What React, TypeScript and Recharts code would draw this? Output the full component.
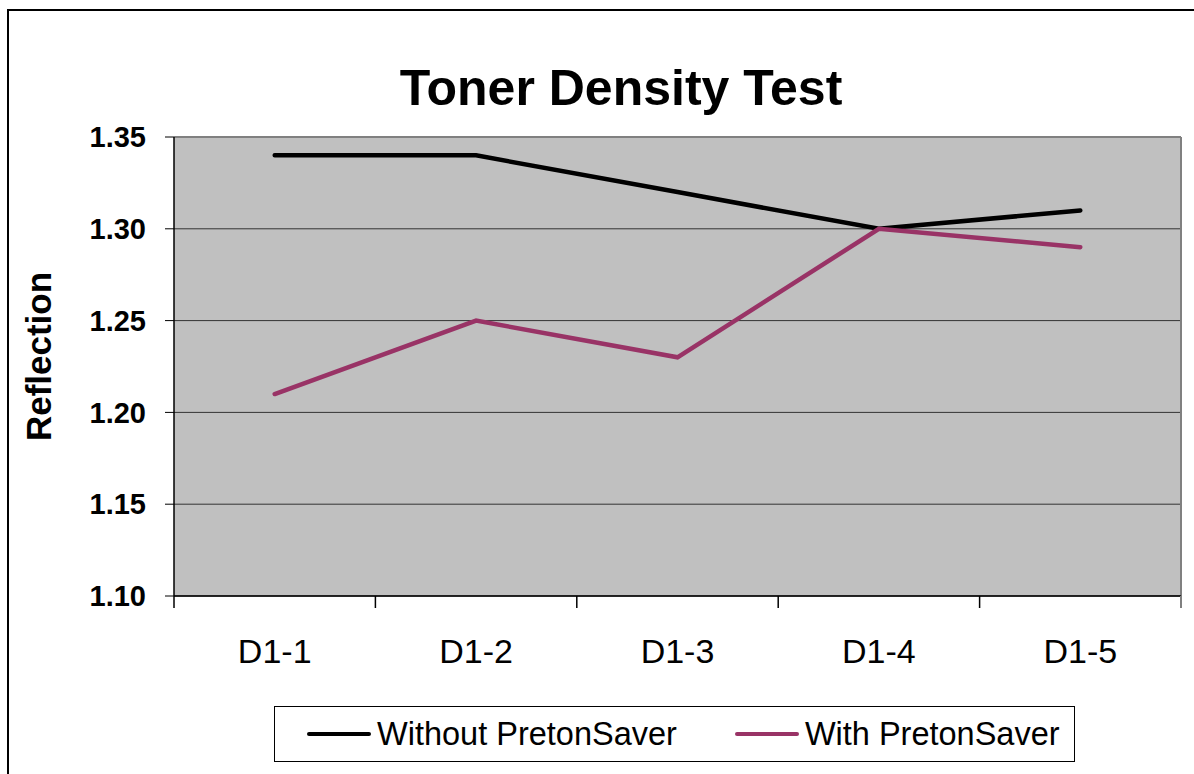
import React from "react";
import {
  LineChart,
  Line,
  XAxis,
  YAxis,
  CartesianGrid,
  Legend,
  Label,
} from "recharts";

const categories = ["D1-1", "D1-2", "D1-3", "D1-4", "D1-5"];
const withoutSaver = [1.34, 1.34, 1.32, 1.3, 1.31];
const withSaver = [1.21, 1.25, 1.23, 1.3, 1.29];
const yTicks = [1.1, 1.15, 1.2, 1.25, 1.3, 1.35];
const seriesNames = ["Without PretonSaver", "With PretonSaver"];

const data = categories.map((name, i) => ({
  name,
  without: withoutSaver[i],
  with: withSaver[i],
}));

const W = 1194;
const H = 774;
const PLOT_LEFT = 174;
const PLOT_RIGHT = 1181;
const PLOT_TOP = 137;
const BAND = (PLOT_RIGHT - PLOT_LEFT) / categories.length;
const FONT = '"Liberation Sans", Arial, sans-serif';

// label in the middle of the category, tick marks on the boundaries
const CategoryTick = (props: any) => {
  const { x, y, payload, index } = props;
  const last = index === categories.length - 1;
  return (
    <g>
      <line x1={x - BAND / 2} x2={x - BAND / 2} y1={y} y2={y + 12} stroke="#000" strokeWidth={1.5} />
      {last && (
        <line x1={x + BAND / 2} x2={x + BAND / 2} y1={y} y2={y + 12} stroke="#808080" strokeWidth={2} />
      )}
      <text x={x} y={y + 67} textAnchor="middle" fontSize={34} fontFamily={FONT} fill="#000">
        {payload.value}
      </text>
    </g>
  );
};

const LegendBox = (props: any) => {
  const items = [...(props.payload || [])].sort(
    (a: any, b: any) => seriesNames.indexOf(a.value) - seriesNames.indexOf(b.value)
  );
  return (
    <div style={{ display: "flex", alignItems: "center", height: "100%", paddingLeft: 32, gap: 58 }}>
      {items.map((entry: any) => (
        <div key={entry.value} style={{ display: "flex", alignItems: "center" }}>
          <svg width={64} height={8}>
            <line x1={2} x2={62} y1={4} y2={4} stroke={entry.color} strokeWidth={4} strokeLinecap="round" />
          </svg>
          <span style={{ marginLeft: 6, fontSize: 32.5, fontFamily: FONT, color: "#000", lineHeight: 1 }}>
            {entry.value}
          </span>
        </div>
      ))}
    </div>
  );
};

const YTitle = (props: any) => {
  const vb = props.viewBox || { x: 0, y: 137, width: 174, height: 459 };
  const cx = 38;
  const cy = vb.y + vb.height / 2 - 10;
  return (
    <text
      x={cx}
      y={cy}
      transform={`rotate(-90 ${cx} ${cy})`}
      textAnchor="middle"
      dominantBaseline="central"
      fontSize={35}
      fontWeight="bold"
      fontFamily={FONT}
      fill="#000"
    >
      Reflection
    </text>
  );
};

export default function App() {
  return (
    <div
      style={{
        position: "absolute",
        left: 0,
        top: 0,
        width: W,
        height: H,
        overflow: "hidden",
        background: "#fff",
      }}
    >
      <div
        style={{
          position: "absolute",
          left: 7,
          top: 9,
          width: W + 100,
          height: H + 100,
          border: "2px solid #000",
        }}
      />
      <div
        style={{
          position: "absolute",
          left: 321,
          top: 63,
          width: 600,
          textAlign: "center",
          fontFamily: FONT,
          fontWeight: "bold",
          fontSize: 50,
          lineHeight: 1,
          color: "#000",
        }}
      >
        Toner Density Test
      </div>
      <LineChart
        width={W}
        height={H}
        data={data}
        margin={{ top: PLOT_TOP, right: W - PLOT_RIGHT, left: 0, bottom: 42 }}
        style={{ position: "absolute", left: 0, top: 0 }}
      >
        <CartesianGrid vertical={false} fill="#C0C0C0" fillOpacity={1} stroke="#333" strokeWidth={1} />
        <CartesianGrid
          horizontalPoints={[PLOT_TOP]}
          verticalPoints={[PLOT_RIGHT]}
          stroke="#808080"
          strokeWidth={2}
        />
        <XAxis
          dataKey="name"
          padding={{ left: BAND / 2, right: BAND / 2 }}
          interval={0}
          tickLine={false}
          tickSize={0}
          tickMargin={0}
          height={80}
          tick={<CategoryTick />}
          axisLine={{ stroke: "#000", strokeWidth: 1.5 }}
        />
        <YAxis
          type="number"
          domain={[1.1, 1.35]}
          ticks={yTicks}
          interval={0}
          width={PLOT_LEFT}
          tickSize={9}
          tickMargin={19}
          tickFormatter={(v: number) => v.toFixed(2)}
          tick={{ fontSize: 29, fontWeight: "bold", fill: "#000", fontFamily: FONT }}
          axisLine={{ stroke: "#000", strokeWidth: 1.5 }}
          tickLine={{ stroke: "#000" }}
        >
          <Label content={<YTitle />} />
        </YAxis>
        <Line
          type="linear"
          dataKey="without"
          name="Without PretonSaver"
          stroke="#000000"
          strokeWidth={4.5}
          strokeLinecap="round"
          dot={false}
          isAnimationActive={false}
        />
        <Line
          type="linear"
          dataKey="with"
          name="With PretonSaver"
          stroke="#993366"
          strokeWidth={4.5}
          strokeLinecap="round"
          dot={false}
          isAnimationActive={false}
        />
        <Legend
          verticalAlign="bottom"
          content={<LegendBox />}
          wrapperStyle={{
            left: 274,
            top: 706,
            bottom: "auto",
            width: 801,
            height: 56,
            boxSizing: "border-box",
            border: "1.5px solid #000",
            background: "#fff",
          }}
        />
      </LineChart>
    </div>
  );
}
